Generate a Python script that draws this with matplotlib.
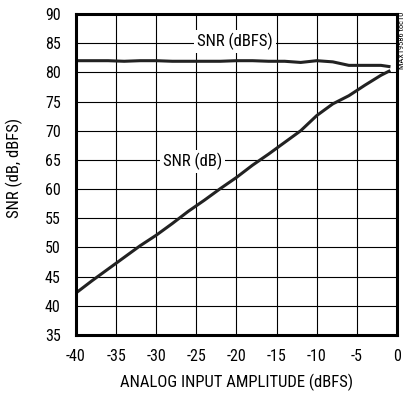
import matplotlib.pyplot as plt
import matplotlib.font_manager as fm

names = {f.name for f in fm.fontManager.ttflist}
family = 'Roboto Condensed' if 'Roboto Condensed' in names else 'DejaVu Sans'
plt.rcParams['font.family'] = [family, 'DejaVu Sans']
plt.rcParams['axes.unicode_minus'] = False

# SNR vs. input amplitude
amp_dbfs = [-40, -38, -36, -34, -32, -30, -28, -26, -24, -22, -20, -18, -16,
            -14, -12, -10, -8, -6, -4, -2, -1]
snr_dbfs = [82.0, 82.0, 82.0, 81.9, 82.0, 82.0, 81.9, 81.9, 81.9, 81.9, 82.0,
            82.0, 81.9, 81.9, 81.7, 82.0, 81.8, 81.2, 81.2, 81.2, 81.0]
snr_db = [42.2, 44.3, 46.3, 48.3, 50.3, 52.1, 54.1, 56.2, 58.1, 60.1, 62.0,
          64.1, 66.0, 68.0, 70.0, 72.6, 74.6, 76.0, 77.8, 79.5, 80.2]

fig = plt.figure(figsize=(4.06, 3.94), dpi=100)
ax = fig.add_axes([76 / 406, 1 - 335 / 394, 321 / 406, 321 / 394])

ax.plot(amp_dbfs, snr_dbfs, color='#222222', lw=2.2)
ax.plot(amp_dbfs, snr_db, color='#222222', lw=2.2)

ax.set_xlim(-40, 0)
ax.set_ylim(35, 90)
ax.set_xticks(range(-40, 1, 5))
ax.set_yticks(range(35, 91, 5))
ax.grid(True, color='black', lw=0.8)
ax.tick_params(length=0, labelsize=11.5)
ax.tick_params(axis='x', pad=10)
ax.tick_params(axis='y', pad=11)
for s in ax.spines.values():
    s.set_linewidth(2.2)

ax.set_xlabel('ANALOG INPUT AMPLITUDE (dBFS)', fontsize=12, labelpad=7)
ax.set_ylabel('SNR (dB, dBFS)', fontsize=12)
ax.yaxis.set_label_coords(-0.165, 0.52)

box = dict(facecolor='white', edgecolor='none', pad=2)
ax.text(-20.2, 85.3, 'SNR (dBFS)', ha='center', va='center', fontsize=12, bbox=box)
ax.text(-25.5, 64.8, 'SNR (dB)', ha='center', va='center', fontsize=12, bbox=box)

# part-number tag up the right edge
fig.text(0.99, 0.97, 'MAX19586 toc10', rotation=90, ha='center', va='top', fontsize=6)

fig.savefig('out.png', dpi=100)
